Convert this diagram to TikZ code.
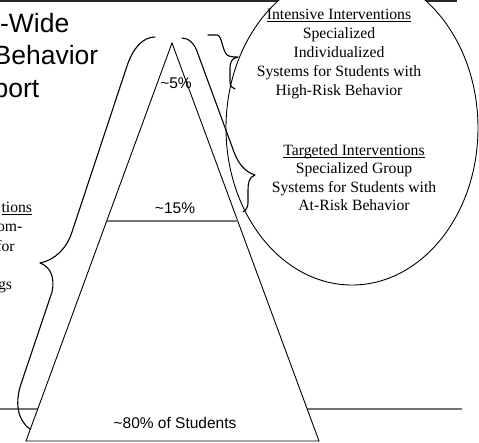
\documentclass[tikz,border=0pt]{standalone}
\usepackage{fontspec}
\setmainfont{Liberation Serif}
\newfontfamily\arialf{Liberation Sans}
\usetikzlibrary{calc}
\newcommand\ulin[1]{\setbox0\hbox{#1}\rlap{\rule[-2.6pt]{\wd0}{0.85pt}}\box0}
\begin{document}
\begin{tikzpicture}[x=1pt,y=-1pt,
  toprule/.style={draw=black!85,line width=1.8pt},
  grayrule/.style={draw=black!55,line width=1.4pt},
  outline/.style={draw=black,line width=0.9pt,fill=white},
  bracepath/.style={draw=black,line width=1.1pt,line join=round,line cap=round},
  serif/.style={font=\fontsize{15.7}{19}\selectfont,inner sep=0pt,anchor=base},
  serifr/.style={font=\fontsize{15.7}{19}\selectfont,inner sep=0pt,anchor=base east},
  sanslbl/.style={font=\arialf\fontsize{15.5}{18}\selectfont,inner sep=0pt,anchor=base},
  titlef/.style={font=\arialf\fontsize{26.5}{32}\selectfont,inner sep=0pt,anchor=base east}]
\useasboundingbox (0,0) rectangle (479,442);
% coordinates
\coordinate (tl) at (0,1); \coordinate (tr) at (457,1);
\coordinate (bl0) at (0,409); \coordinate (br0) at (462,409);
\coordinate (apex) at (172,43);
\coordinate (tbl) at (26,441);
\coordinate (tbr) at (319,441);
\coordinate (ec) at (352,128);
% rules
\draw[toprule] (tl) -- (tr);
\draw[grayrule] (bl0) -- (br0);
% ellipse
\draw[outline] (ec) ellipse [x radius=126pt, y radius=157pt];
% pyramid
\draw[outline,line join=miter] (apex) -- (tbl) -- (tbr) -- cycle;
\coordinate (m1) at ($(apex)!0.447!(tbl)$);
\coordinate (m2) at ($(apex)!0.447!(tbr)$);
\draw[grayrule] (m1) -- (m2);
% big left brace
\draw[bracepath] (155,37) .. controls (143,37) and (133,48) .. (127,66)
  -- (72,232) .. controls (67,248) and (55,260) .. (40,263)
  .. controls (51,267) and (55,278) .. (52,292)
  -- (21,384) .. controls (15,402) and (17,420) .. (30,429);
% right long brace
\draw[bracepath] (182,38) .. controls (189,38) and (195,44) .. (198,54)
  -- (234,152) .. controls (238,163) and (245,172) .. (255,175)
  .. controls (249,177) and (248,183) .. (248,190)
  -- (248,203) .. controls (248,207) and (246,210) .. (243,212);
% small upper brace
\draw[bracepath] (208,35) -- (217,35) .. controls (222,35) and (222,50) .. (227,55)
  .. controls (230,57) and (234,57) .. (238,57)
  .. controls (232,58) and (230,62) .. (230,68)
  -- (230,82) .. controls (230,86) and (232,88) .. (235,89);
% title fragments
\node[titlef] (t1) at (69.5,32) {-Wide};
\node[titlef] (t2) at (98.5,64.5) {Behavior};
\node[titlef] (t3) at (39.5,97) {port};
% percentages
\node[sanslbl] (p5) at (176,88) {\textasciitilde 5\%};
\node[sanslbl] (p15) at (175,213) {\textasciitilde 15\%};
\node[sanslbl] (p80) at (175,428) {\textasciitilde 80\% of Students};
% intensive
\node[serif] (i1) at (339,19) {\ulin{Intensive Interventions}};
\node[serif] (i2) at (339,38.3) {Specialized};
\node[serif] (i3) at (339,57.5) {Individualized};
\node[serif] (i4) at (339,76.5) {Systems for Students with};
\node[serif] (i5) at (339,95.5) {High-Risk Behavior};
% targeted
\node[serif] (g1) at (354,155) {\ulin{Targeted Interventions}};
\node[serif] (g2) at (354,173.5) {Specialized Group};
\node[serif] (g3) at (354,192) {Systems for Students with};
\node[serif] (g4) at (354,210.5) {At-Risk Behavior};
% universal fragments
\node[serifr] (u1) at (32.3,212) {\ulin{tions}};
\node[serifr] (u2) at (22.5,231.5) {om-};
\node[serifr] (u3) at (14.8,251) {for};
\node[serifr] (u4) at (12.3,289) {gs};
\end{tikzpicture}
\end{document}
